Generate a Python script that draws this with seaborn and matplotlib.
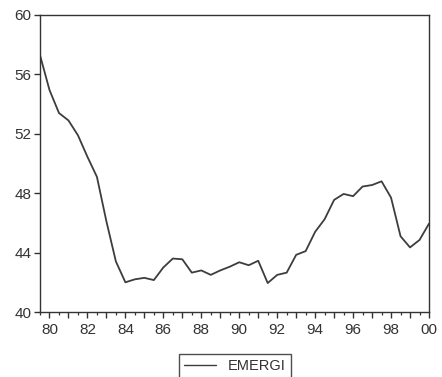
import numpy as np
import pandas as pd
import matplotlib
matplotlib.use("Agg")
import matplotlib.pyplot as plt
from matplotlib.ticker import MultipleLocator, FuncFormatter
import seaborn as sns

# Semi-annual observations, 1979S2 .. 1999S2 (+2000 start)
periods = np.arange(1979.5, 2000.01, 0.5)
emergi = [57.3, 54.95, 53.4, 52.9, 51.9, 50.45, 49.1, 46.1, 43.4, 42.0,
          42.2, 42.3, 42.15, 43.0, 43.6, 43.55, 42.65, 42.8, 42.5, 42.8,
          43.05, 43.35, 43.15, 43.45, 41.95, 42.5, 42.65, 43.85, 44.1, 45.4,
          46.25, 47.55, 47.95, 47.8, 48.45, 48.55, 48.8, 47.7, 45.1, 44.35,
          44.85, 45.95]
series_name = "EMERGI"
y_ticks = [40, 44, 48, 52, 56, 60]

df = pd.DataFrame({"t": periods, "v": emergi, "series": series_name})

sns.set_style("ticks")
plt.rcParams["font.family"] = ["Liberation Sans", "DejaVu Sans"]

fig = plt.figure(figsize=(4.42, 3.77), dpi=100)
ax = fig.add_axes([40/442, 1-312/377, (429-40)/442, (312-15)/377])

sns.lineplot(data=df, x="t", y="v", hue="series", palette=["#3d3d3d"],
             linewidth=1.3, ax=ax, legend=False)

ax.set_xlim(1979.5, 2000.0)
ax.set_ylim(40, 60)
ax.set_yticks(y_ticks)
ax.xaxis.set_major_locator(MultipleLocator(1))
ax.xaxis.set_minor_locator(MultipleLocator(0.5))
ax.xaxis.set_major_formatter(FuncFormatter(
    lambda x, p: f"{int(round(x)) % 100:02d}" if int(round(x)) % 2 == 0 else ""))
ax.set_xlabel("")
ax.set_ylabel("")
for s in ax.spines.values():
    s.set_visible(True)
    s.set_color("#333333")
    s.set_linewidth(1.0)
ax.tick_params(axis="both", which="major", direction="out", length=4,
               width=1.0, color="#333333", labelsize=11, labelcolor="#333333", pad=2)
ax.tick_params(axis="x", which="major", pad=4)
ax.tick_params(axis="x", which="minor", direction="out", length=2.5,
               width=0.9, color="#333333")

handle = plt.Line2D([], [], color="#3d3d3d", linewidth=1.0)
leg = fig.legend([handle], [series_name], loc="upper center",
                 bbox_to_anchor=(235/442, 1-354/377), frameon=True,
                 fancybox=False, edgecolor="#222222", fontsize=10.5,
                 handlelength=2.2, borderpad=0.35, handletextpad=0.8,
                 borderaxespad=0)
leg.get_frame().set_linewidth(1.0)
for t in leg.get_texts():
    t.set_color("#333333")

fig.savefig("out.png", dpi=100)
